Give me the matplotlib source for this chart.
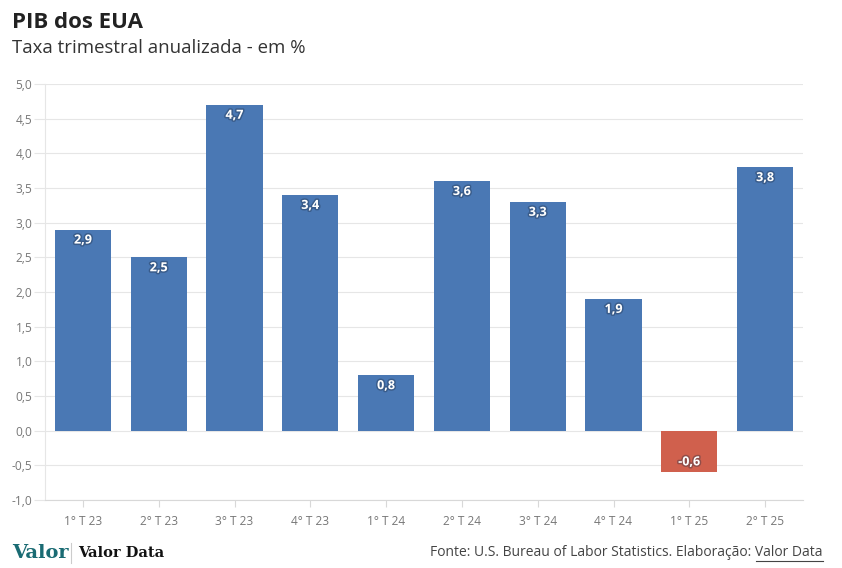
import matplotlib.pyplot as plt
import matplotlib.patheffects as pe
import numpy as np

# data
quarters = ["1° T 23", "2° T 23", "3° T 23", "4° T 23", "1° T 24",
            "2° T 24", "3° T 24", "4° T 24", "1° T 25", "2° T 25"]
gdp = [2.9, 2.5, 4.7, 3.4, 0.8, 3.6, 3.3, 1.9, -0.6, 3.8]
yticks = np.arange(-1.0, 5.01, 0.5)

blue = "#4a78b4"
red = "#d0604d"
grid_c = "#e6e6e6"
text_c = "#777777"

plt.rcParams['font.family'] = ['Open Sans', 'DejaVu Sans']

fig = plt.figure(figsize=(8.42, 5.68), dpi=100)
ax = fig.add_axes([45/842, 68/568, 758/842, 416/568])

x = np.arange(len(quarters))
colors = [blue if v >= 0 else red for v in gdp]
bars = ax.bar(x, gdp, width=0.74, color=colors, zorder=3)

shadow = [pe.withStroke(linewidth=2.2, foreground="#1c2a40", alpha=0.35)]
for xi, v in zip(x, gdp):
    lab = f"{v:.1f}".replace(".", ",")
    off = -7.5 if v >= 0 else 7.5
    ax.annotate(lab, (xi, v), xytext=(0, off), textcoords="offset points",
                ha="center", va="center", color="white", fontsize=9,
                fontweight="bold", path_effects=shadow, zorder=4)

ax.set_xlim(-0.5, len(quarters) - 0.5)
ax.set_ylim(-1.0, 5.0)
ax.set_yticks(yticks)
ax.set_yticklabels([f"{t:.1f}".replace(".", ",") for t in yticks])
ax.set_xticks(x)
ax.set_xticklabels(quarters)
ax.grid(axis="y", color=grid_c, linewidth=0.8, zorder=0)

for s in ["top", "right"]:
    ax.spines[s].set_visible(False)
ax.spines["left"].set_color(grid_c)
ax.spines["bottom"].set_color("#d8d8d8")
ax.tick_params(axis="y", length=8, color=grid_c, labelsize=8.6, labelcolor=text_c, pad=1)
ax.tick_params(axis="x", length=5, color="#d8d8d8", labelsize=8.6, labelcolor=text_c, pad=6)

fig.text(12/842, 1 - 22/568, "PIB dos EUA", fontsize=16, fontweight="bold",
         color="#222222", va="center")
fig.text(12/842, 1 - 48/568, "Taxa trimestral anualizada - em %", fontsize=13.4,
         color="#333333", va="center")

# source line, with the last words underlined like a link
fig.text(823/842, 1 - 553/568, "Fonte: U.S. Bureau of Labor Statistics. Elaboração: Valor Data",
         fontsize=10, color="#444444", ha="right", va="center")
fig.add_artist(plt.Line2D([756/842, 823/842], [1 - 561/568, 1 - 561/568], color="#444444", lw=0.8))

# logo
fig.text(12/842, 1 - 553/568, "Valor", fontsize=14, color="#1a6b73",
         family="DejaVu Serif", va="center", fontweight="bold")
fig.add_artist(plt.Line2D([71/842, 71/842], [1 - 563/568, 1 - 543/568], color="#cccccc", lw=0.8))
fig.text(78/842, 1 - 553/568, "Valor Data", fontsize=10.5, color="#111111",
         family="DejaVu Serif", va="center", fontweight="bold")

fig.savefig("out.png", dpi=100)
